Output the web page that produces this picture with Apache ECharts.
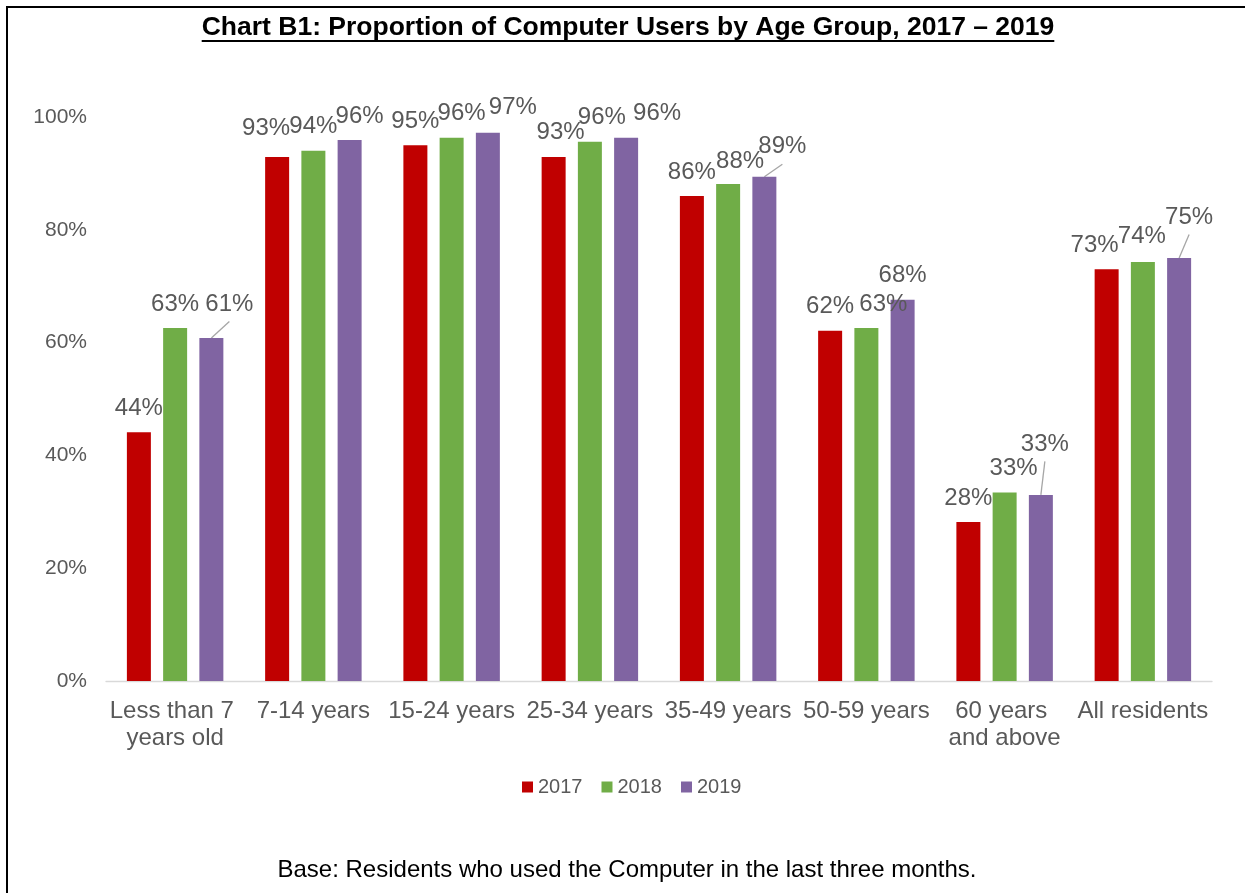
<!DOCTYPE html>
<html><head><meta charset="utf-8">
<script src="https://cdn.jsdelivr.net/npm/echarts@6/dist/echarts.min.js"></script>
<style>html,body{margin:0;padding:0;background:#fff}#c{width:1245px;height:893px}</style>
</head><body><div id="c"></div>
<script>
// ---- data ----
const categories = ['Less than 7 years old', '7-14 years', '15-24 years', '25-34 years', '35-49 years', '50-59 years', '60 years and above', 'All residents'];
const seriesNames = ['2017', '2018', '2019'];
const values2017 = [44.1, 92.9, 95.0, 92.9, 86.0, 62.1, 28.2, 73.0];
const values2018 = [62.6, 94.0, 96.3, 95.6, 88.1, 62.6, 33.4, 74.3];
const values2019 = [60.8, 95.9, 97.2, 96.3, 89.4, 67.6, 33.0, 75.0];
const yTickValues = [0, 20, 40, 60, 80, 100];
const titleText = 'Chart B1: Proportion of Computer Users by Age Group, 2017 \u2013 2019';
const footnoteText = 'Base: Residents who used the Computer in the last three months.';

// ---- styling ----
const FONT = "'Liberation Sans', Arial, sans-serif";
const colors = ['#C00000', '#70AD47', '#8064A2'];
// manual label nudges [dx, dy, leaderLine] per series / category (as in the original layout)
const labelNudges = [
  [[0,0],[-11,-5],[0,0],[7,-1],[0,0],[0,0],[0,0],[-12,0]],
  [[0,0],[0,0],[10,0],[12,0],[12,1],[17,0],[9,0],[-1,-2]],
  [[18,-10,1],[10,0],[25,-1],[31,0],[18,-6,1],[0,0],[4,-27,1],[10,-17,1]]
];
const seriesValues = [values2017, values2018, values2019];
const BAR_W = 24, BAR_GAP = 0.51, LABEL_DIST = 12, LABEL_FS = 24;

const chart = echarts.init(document.getElementById('c'), null, {renderer: 'canvas'});

function measure(text, font) {
  const cv = document.createElement('canvas').getContext('2d');
  cv.font = font;
  return cv.measureText(text).width;
}
const titleFontSize = 26.5;
const titleW = measure(titleText, 'bold ' + titleFontSize + 'px ' + FONT);
const titleCx = 628;

const series = seriesValues.map((vals, si) => ({
  name: seriesNames[si],
  type: 'bar',
  data: vals,
  barWidth: BAR_W,
  barGap: (BAR_GAP * 100) + '%',
  itemStyle: {color: colors[si]},
  label: {
    show: true,
    position: 'top',
    distance: LABEL_DIST,
    fontSize: LABEL_FS,
    fontFamily: FONT,
    color: '#595959',
    formatter: p => Math.round(p.value) + '%'
  },
  labelLayout: function (params) {
    const n = labelNudges[params.seriesIndex][params.dataIndex];
    return {dx: n[0], dy: n[1]};
  }
}));

const baseGraphic = [
  {type: 'rect', shape: {x: 7, y: 7, width: 1400, height: 1000}, style: {fill: 'none', stroke: '#000', lineWidth: 2}, silent: true},
  {type: 'text', x: titleCx, y: 28, style: {text: titleText, font: 'bold ' + titleFontSize + 'px ' + FONT, fill: '#000', align: 'center', verticalAlign: 'middle'}},
  {type: 'line', shape: {x1: titleCx - titleW / 2, y1: 41, x2: titleCx + titleW / 2, y2: 41}, style: {stroke: '#000', lineWidth: 2}},
  {type: 'text', x: 627, y: 870, style: {text: footnoteText, font: '24px ' + FONT, fill: '#000', align: 'center', verticalAlign: 'middle'}}
];

const option = {
  animation: false,
  backgroundColor: '#ffffff',
  textStyle: {fontFamily: FONT},
  grid: {left: 106, right: 33, top: 117, bottom: 212, containLabel: false},
  legend: {
    data: seriesNames,
    left: 517,
    top: 772,
    icon: 'rect',
    itemWidth: 11,
    itemHeight: 11,
    itemGap: 19,
    textStyle: {fontSize: 20, color: '#595959', fontFamily: FONT}
  },
  xAxis: {
    type: 'category',
    data: categories,
    axisLine: {lineStyle: {color: '#D9D9D9', width: 1.3}},
    axisTick: {show: false},
    axisLabel: {
      interval: 0,
      margin: 17,
      fontSize: 24,
      lineHeight: 27,
      color: '#595959',
      fontFamily: FONT,
      width: 134,
      overflow: 'break'
    }
  },
  yAxis: {
    type: 'value',
    min: yTickValues[0],
    max: yTickValues[yTickValues.length - 1],
    interval: yTickValues[1] - yTickValues[0],
    axisLine: {show: false},
    axisTick: {show: false},
    splitLine: {show: false},
    axisLabel: {
      margin: 19,
      fontSize: 21,
      color: '#595959',
      fontFamily: FONT,
      formatter: v => v + '%'
    }
  },
  series: series,
  graphic: baseGraphic
};
chart.setOption(option);

// leader lines for manually moved labels, positioned through the chart's own axes
const barStep = BAR_W * (1 + BAR_GAP);
const leaders = [];
seriesValues.forEach((vals, si) => {
  vals.forEach((v, ci) => {
    const n = labelNudges[si][ci];
    if (!n[2]) return;
    const cx = chart.convertToPixel({xAxisIndex: 0}, categories[ci]);
    const top = chart.convertToPixel({yAxisIndex: 0}, v);
    const bx = cx + (si - 1) * barStep;
    const labelCy = top - LABEL_DIST - LABEL_FS / 2 + n[1];
    leaders.push({
      type: 'line', silent: true,
      shape: {x1: bx, y1: top, x2: bx + n[0], y2: labelCy + 17.5},
      style: {stroke: '#A6A6A6', lineWidth: 1.3}
    });
  });
});
chart.setOption({graphic: baseGraphic.concat(leaders)});
</script>
</body></html>
